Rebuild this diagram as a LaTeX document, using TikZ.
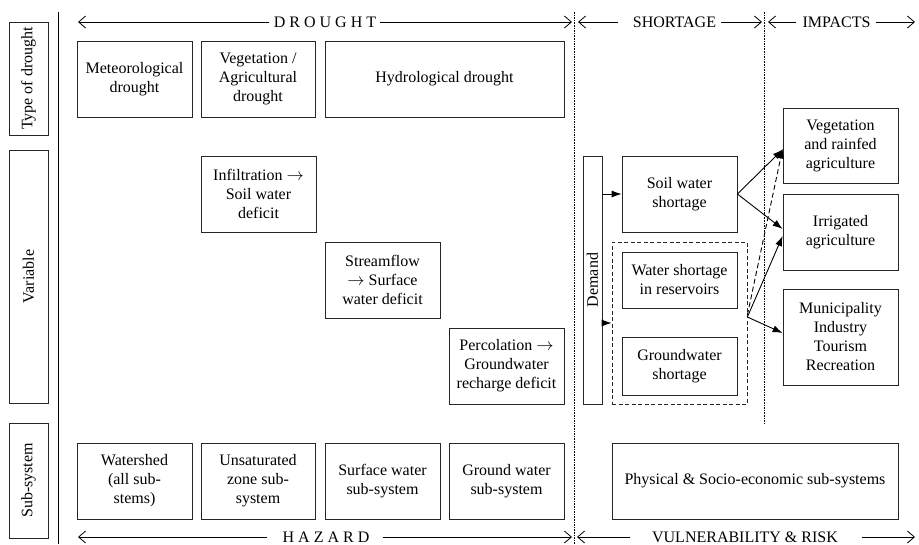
\documentclass[tikz,border=0pt]{standalone}
\usepackage{fontspec}
\setmainfont{Liberation Serif}
\usetikzlibrary{arrows.meta}
\begin{document}
\begin{tikzpicture}[x=1pt,y=-1pt,
  every node/.style={font=\fontsize{16}{19}\selectfont},
  box/.style={draw=black!85, line width=0.75pt, align=center, inner sep=0pt},
  vbox/.style={box, rotate=90},
  hdr/.style={line width=0.75pt, -{Straight Barb[length=7pt,width=12pt,line width=0.8pt]}},
  conn/.style={line width=0.9pt, -{Latex[length=10pt,width=7pt]}},
  dconn/.style={conn, dash pattern=on 5pt off 3pt},
  sep/.style={line width=0.6pt, dash pattern=on 1.6pt off 1pt},
  lbl/.style={inner sep=0pt}]

\useasboundingbox (0,0) rectangle (919,544);

% left axis labels
\node[vbox, minimum width=113pt, minimum height=39pt] (ltype) at (28.5,78.5) {Type of drought};
\node[vbox, minimum width=253pt, minimum height=39pt] (lvar) at (28.5,276.5) {Variable};
\node[vbox, minimum width=115pt, minimum height=39pt] (lsub) at (28.5,480.5) {Sub-system};

% main separator
\coordinate (mt) at (58,12);
\coordinate (mb) at (58,544);
\draw[line width=0.8pt] (mt) -- (mb);

% dotted separators
\coordinate (s1t) at (574,12);
\coordinate (s1b) at (574,544);
\coordinate (s2t) at (764,12);
\coordinate (s2b) at (764,423);
\draw[sep] (s1t) -- (s1b);
\draw[sep] (s2t) -- (s2b);

% header arrows
\node[lbl] (drought) at (325,22) {D R O U G H T};
\coordinate (dL) at (78,22); \coordinate (dR) at (572,22);
\draw[hdr] ([xshift=-5pt]drought.west) -- (dL);
\draw[hdr] ([xshift=4pt]drought.east) -- (dR);

\node[lbl] (shortage) at (674.5,22) {SHORTAGE};
\coordinate (sL) at (578,22); \coordinate (sR) at (762,22);
\draw[hdr] ([xshift=-15pt]shortage.west) -- (sL);
\draw[hdr] ([xshift=5pt]shortage.east) -- (sR);

\node[lbl] (impacts) at (836.5,22) {IMPACTS};
\coordinate (iL) at (768,22); \coordinate (iR) at (915,22);
\draw[hdr] ([xshift=-6pt]impacts.west) -- (iL);
\draw[hdr] ([xshift=5pt]impacts.east) -- (iR);

\node[lbl] (hazard) at (326,537) {H A Z A R D};
\coordinate (hL) at (78,537); \coordinate (hR) at (572,537);
\draw[hdr] ([xshift=-15pt]hazard.west) -- (hL);
\draw[hdr] ([xshift=13pt]hazard.east) -- (hR);

\node[lbl] (vuln) at (745,537) {VULNERABILITY \& RISK};
\coordinate (vL) at (577,537); \coordinate (vR) at (915,537);
\draw[hdr] ([xshift=-22pt]vuln.west) -- (vL);
\draw[hdr] ([xshift=24pt]vuln.east) -- (vR);

% type of drought row
\node[box, minimum width=115pt, minimum height=76pt] (met) at (134.5,79) {Meteorological\\drought};
\node[box, minimum width=114pt, minimum height=76pt] (veg) at (258,79) {Vegetation /\\Agricultural\\drought};
\node[box, minimum width=239pt, minimum height=76pt] (hyd) at (444.5,79) {Hydrological drought};

% variable row
\node[box, minimum width=115pt, minimum height=76pt] (inf) at (258.5,194) {Infiltration $\rightarrow$\\Soil water\\deficit};
\node[box, minimum width=115pt, minimum height=76pt] (str) at (382.5,280) {Streamflow\\$\rightarrow$ Surface\\water deficit};
\node[box, minimum width=115pt, minimum height=76pt] (perc) at (506.5,366) {Percolation $\rightarrow$\\Groundwater\\recharge deficit};

% shortage
\node[vbox, minimum width=248pt, minimum height=19pt] (demand) at (592.5,280) {Demand};
\node[box, minimum width=115pt, minimum height=76pt] (soil) at (679.5,194) {Soil water\\shortage};
\node[draw=black!85, line width=0.75pt, dash pattern=on 4pt off 2.5pt, minimum width=135pt, minimum height=162pt, inner sep=0pt] (dbox) at (679.5,323) {};
\node[box, minimum width=115pt, minimum height=56pt] (res) at (679.5,280) {Water shortage\\in reservoirs};
\node[box, minimum width=115pt, minimum height=58pt] (gw) at (679.5,366) {Groundwater\\shortage};

% impacts
\node[box, minimum width=115pt, minimum height=75pt] (vegi) at (840.5,145.5) {Vegetation\\and rainfed\\agriculture};
\node[box, minimum width=115pt, minimum height=76pt] (irr) at (840.5,232) {Irrigated\\agriculture};
\node[box, minimum width=115pt, minimum height=96pt] (muni) at (840.5,337) {Municipality\\Industry\\Tourism\\Recreation};

% sub-system row
\node[box, minimum width=115pt, minimum height=76pt] (wsh) at (134.5,481) {Watershed\\(all sub-\\stems)};
\node[box, minimum width=114pt, minimum height=76pt] (uns) at (258,481) {Unsaturated\\zone sub-\\system};
\node[box, minimum width=115pt, minimum height=76pt] (sws) at (382.5,481) {Surface water\\sub-system};
\node[box, minimum width=115pt, minimum height=76pt] (gws) at (506.5,481) {Ground water\\sub-system};
\node[box, minimum width=286pt, minimum height=76pt] (phys) at (755,481) {Physical \& Socio-economic sub-systems};

% connectors
\draw[conn] (demand.south |- soil.west) -- (soil.west);
\draw[conn] (demand.south |- dbox.west) -- (dbox.west);
\draw[conn] (soil.east) -- ([yshift=-4pt]vegi.west);
\draw[conn] (soil.east) -- ([yshift=3pt]irr.west);
\draw[dconn] ([yshift=8pt]dbox.east) -- ([yshift=-3pt]vegi.west);
\draw[conn] ([yshift=6pt]dbox.east) -- ([yshift=-4pt]irr.west);
\draw[conn] ([yshift=6pt]dbox.east) -- ([yshift=4pt]muni.west);
\end{tikzpicture}
\end{document}
